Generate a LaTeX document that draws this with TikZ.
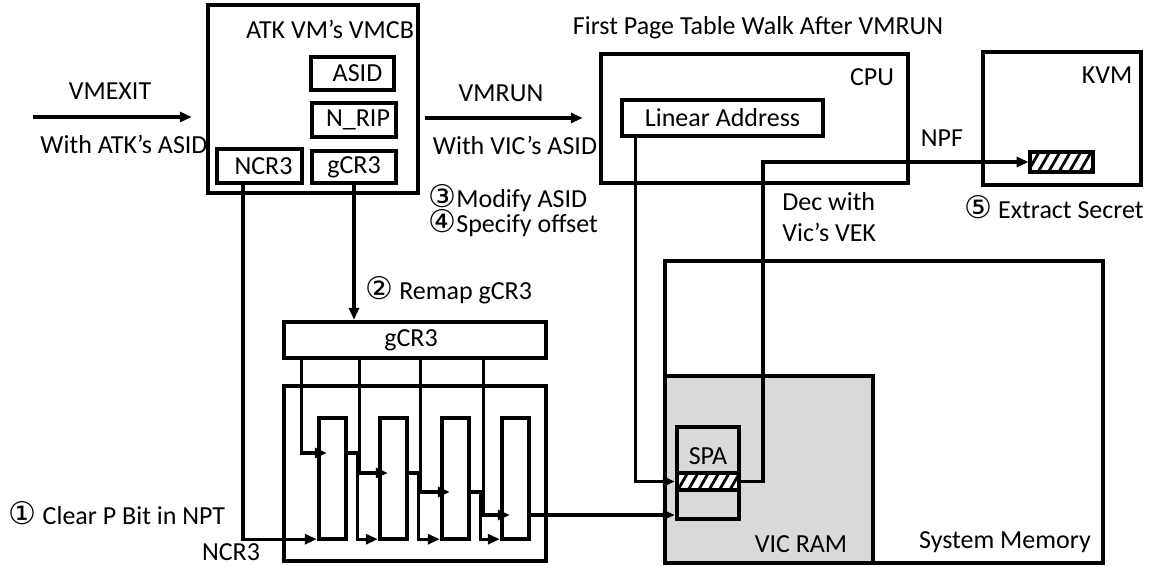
\documentclass[tikz,border=0pt]{standalone}
\usepackage{fontspec}
\setmainfont{Carlito}
\newfontfamily\digitfont[Scale=1.2]{DejaVu Sans}
\usetikzlibrary{arrows.meta,positioning,fit,patterns.meta}
\definecolor{vicgray}{RGB}{217,217,217}

\begin{document}
\begin{tikzpicture}[x=0.5pt, y=-0.5pt,
    every node/.style={font=\fontsize{13}{15.6}\selectfont, inner sep=0pt},
    box/.style={draw, rectangle, line width=2.2pt},
    hatched/.style={box, preaction={fill=white}, pattern={Lines[angle=60, distance=4.5pt, line width=1.4pt]}},
    wire/.style={line width=1.6pt},
    >={Triangle[length=6pt, width=5pt]}]
\useasboundingbox (0,0) rectangle (1156,566);

% attacker VMCB
\node[box, fit={(208,5) (418,193)}] (vmcb) {};
\node (vmcbtitle) at (330,29) {ATK VM’s VMCB};
\node[box, fit={(311,57) (394,90)}] (asid) {};
\node[box, fit={(312,103) (396,137)}] (nrip) {};
\node[box, fit={(217,149) (302,183)}] (ncr3) {};
\node[box, fit={(312,151) (396,183)}] (gcr3s) {};
\node (asidtxt) at ([xshift=2.5pt]asid.center) {ASID};
\node (nriptxt) at ([xshift=2pt]nrip.center) {N\_RIP};
\node (ncr3txt) at ([xshift=2pt]ncr3.center) {NCR3};
\node (gcr3stxt) at (gcr3s.center) {gCR3};

% CPU and KVM
\node[box, fit={(601,54) (908,183)}] (cpu) {};
\node (cputxt) at (872,77) {CPU};
\node[box, fit={(622,100) (823,136)}] (linaddr) {};
\node (linaddrtxt) at (linaddr.center) {Linear Address};
\node[box, fit={(983,52) (1141,185)}] (kvm) {};
\node (kvmtxt) at (1107,75) {KVM};
\node[hatched, fit={(1030,152) (1093,172)}] (secret) {};

% memory
\node[box, fit={(665,261) (1103,563)}] (sysmem) {};
\node[box, fill=vicgray, fit={(665,376) (873,563)}] (vicram) {};
\node[box, fill=vicgray, fit={(677,427) (739,473)}] (spa) {};
\node[hatched, fit={(677,473) (739,490)}] (spahatch) {};
\node[box, fill=vicgray, fit={(677,490) (739,519)}] (spalow) {};
\node (spatxt) at (708,456) {SPA};
\node (vicramtxt) at (801,544) {VIC RAM};
\node (sysmemtxt) at (1005,542) {System Memory};

% nested page table walk
\node[box, fit={(284,322) (546,358)}] (gcr3w) {};
\node (gcr3wtxt) at ([xshift=-2pt]gcr3w.center) {gCR3};
\node[box, fit={(284,386) (546,561)}] (walk) {};
\foreach \i/\x in {1/319,2/380,3/442,4/502}
    \node[box, fit={(\x,418) (\x+27,539)}] (r\i) {};

% texts
\node (exittxt) at (110,91) {VMEXIT};
\node (exitasid) at (124,144) {With ATK’s ASID};
\node (runtxt) at (501,93) {VMRUN};
\node (runasid) at (515,145) {With VIC’s ASID};
\node (walktitle) at (758,28) {First Page Table Walk After VMRUN};
\node (npftxt) at (942,138) {NPF};
\node[anchor=west, align=left] (dectxt) at (782,217) {Dec with\\Vic’s VEK};
\node (step5) at (1054,207) {{\digitfont ⑤} Extract Secret};
\node[anchor=west, align=left, font={\fontsize{13}{12.5}\selectfont\lineskiplimit=-20pt}] (step34) at (428,211) {{\digitfont ③}Modify ASID\\{\digitfont ④}Specify offset};
\node[anchor=west] (step2) at (365,290) {{\digitfont ②} Remap gCR3};
\node (step1) at (117,513) {{\digitfont ①} Clear P Bit in NPT};
\node (ncr3lbl) at (231,552) {NCR3};

% connectors
\coordinate (exitin) at (33,117);
\coordinate (runin) at (425,118);
\coordinate (decturn) at (763,162);
\draw[wire, ->, shorten >=7pt] (exitin) -- (exitin -| vmcb.west);
\draw[wire, ->, shorten >=8pt] (runin) -- (runin -| cpu.west);
\draw[wire, ->] (gcr3s.south) -- (gcr3s.south |- gcr3w.north);
\draw[wire, ->] ([xshift=-8.25pt]ncr3.south) |- ([yshift=1pt]r1.south west);
\foreach \i/\dx/\dy in {1/10/12.75, 2/39/2.75, 3/69.5/-6.75, 4/101/-18.25}
    \draw[wire, ->, shorten >=-5pt] ([xshift=\dx pt]gcr3w.south west) |- ([yshift=\dy pt]r\i.west);
\foreach \i/\j/\dy in {1/2/12.75, 2/3/2.75, 3/4/-6.75}
    \draw[wire, ->] ([yshift=\dy pt]r\i.east) -- ++(4.5pt,0) |- ([yshift=1pt]r\j.south west);
\coordinate (walkout) at ([yshift=-18.25pt]r4.east);
\draw[wire, ->] (walkout) -- (walkout -| spalow.west);
\draw[wire, ->] ([xshift=8pt]linaddr.south west) |- (spahatch.west);
\draw[wire, ->] (spahatch.east) -| (decturn) -- (secret.west);
\end{tikzpicture}
\end{document}
